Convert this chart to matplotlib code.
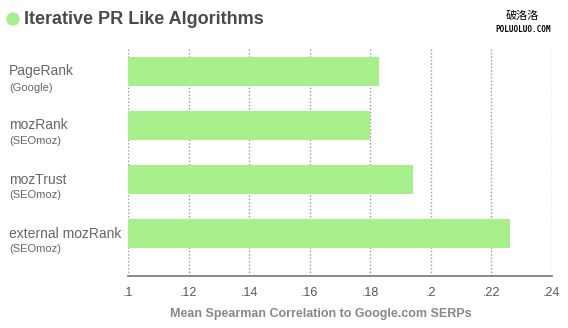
import matplotlib.pyplot as plt
from matplotlib.patches import Ellipse

names = ["PageRank", "mozRank", "mozTrust", "external mozRank"]
sources = ["(Google)", "(SEOmoz)", "(SEOmoz)", "(SEOmoz)"]
values = [0.183, 0.180, 0.194, 0.226]
ticks = [0.10, 0.12, 0.14, 0.16, 0.18, 0.20, 0.22, 0.24]
tick_labels = [".1", ".12", ".14", ".16", ".18", ".2", ".22", ".24"]

green = "#a6ef8a"
W, H = 568, 328

plt.rcParams['font.family'] = ['Liberation Sans', 'DejaVu Sans']
fig = plt.figure(figsize=(W / 100, H / 100), dpi=100)
ax = fig.add_axes([128 / W, 1 - 276 / H, (552 - 128) / W, (276 - 48) / H])

ypos = list(range(len(names)))
ax.barh(ypos, values, height=0.54, color=green, zorder=3)
ax.set_xlim(0.1, 0.24)
ax.set_ylim(3.79, -0.435)

ax.set_xticks(ticks)
ax.set_xticklabels(tick_labels, fontsize=9, color="#555555")
ax.tick_params(axis="x", length=0, pad=8)
ax.set_yticks([])
ax.grid(axis="x", linestyle=(0, (1, 1.5)), color="#999999", linewidth=1, zorder=0)
for s in ["top", "right", "left"]:
    ax.spines[s].set_visible(False)
ax.spines["bottom"].set_color("#777777")
ax.spines["bottom"].set_linewidth(1.2)

ax.set_xlabel("Mean Spearman Correlation to Google.com SERPs", fontsize=9,
              fontweight="bold", color="#888888")
ax.xaxis.set_label_coords((321 - 128) / 424, -(314 - 276) / 228, transform=ax.transAxes)
ax.xaxis.label.set_va("center")

# category labels on the left
for i, (n, s) in enumerate(zip(names, sources)):
    yc = 1 - (71.5 + i * 54) / H
    fig.text(9 / W, yc, n, fontsize=10, color="#666666", va="center", ha="left")
    fig.text(9 / W, yc - 16 / H, s, fontsize=8, color="#666666", va="center", ha="left")

# title with green dot
fig.add_artist(Ellipse((13 / W, 1 - 19 / H), 12 / W, 12 / H, transform=fig.transFigure,
                       color=green, zorder=5))
fig.text(24 / W, 1 - 19 / H, "Iterative PR Like Algorithms", fontsize=13,
         fontweight="bold", color="#4a4a4a", va="center", ha="left")

# watermark
fig.text(522 / W, 1 - 16 / H, "破洛洛", fontsize=8, color="black", ha="center",
         va="center", family=["Noto Sans CJK SC", "DejaVu Sans"])
fig.text(523 / W, 1 - 30 / H, "POLUOLUO.COM", fontsize=5.5, color="black",
         ha="center", va="center", family=["DejaVu Sans Mono"], fontweight="bold")

fig.savefig("out.png", dpi=100)
